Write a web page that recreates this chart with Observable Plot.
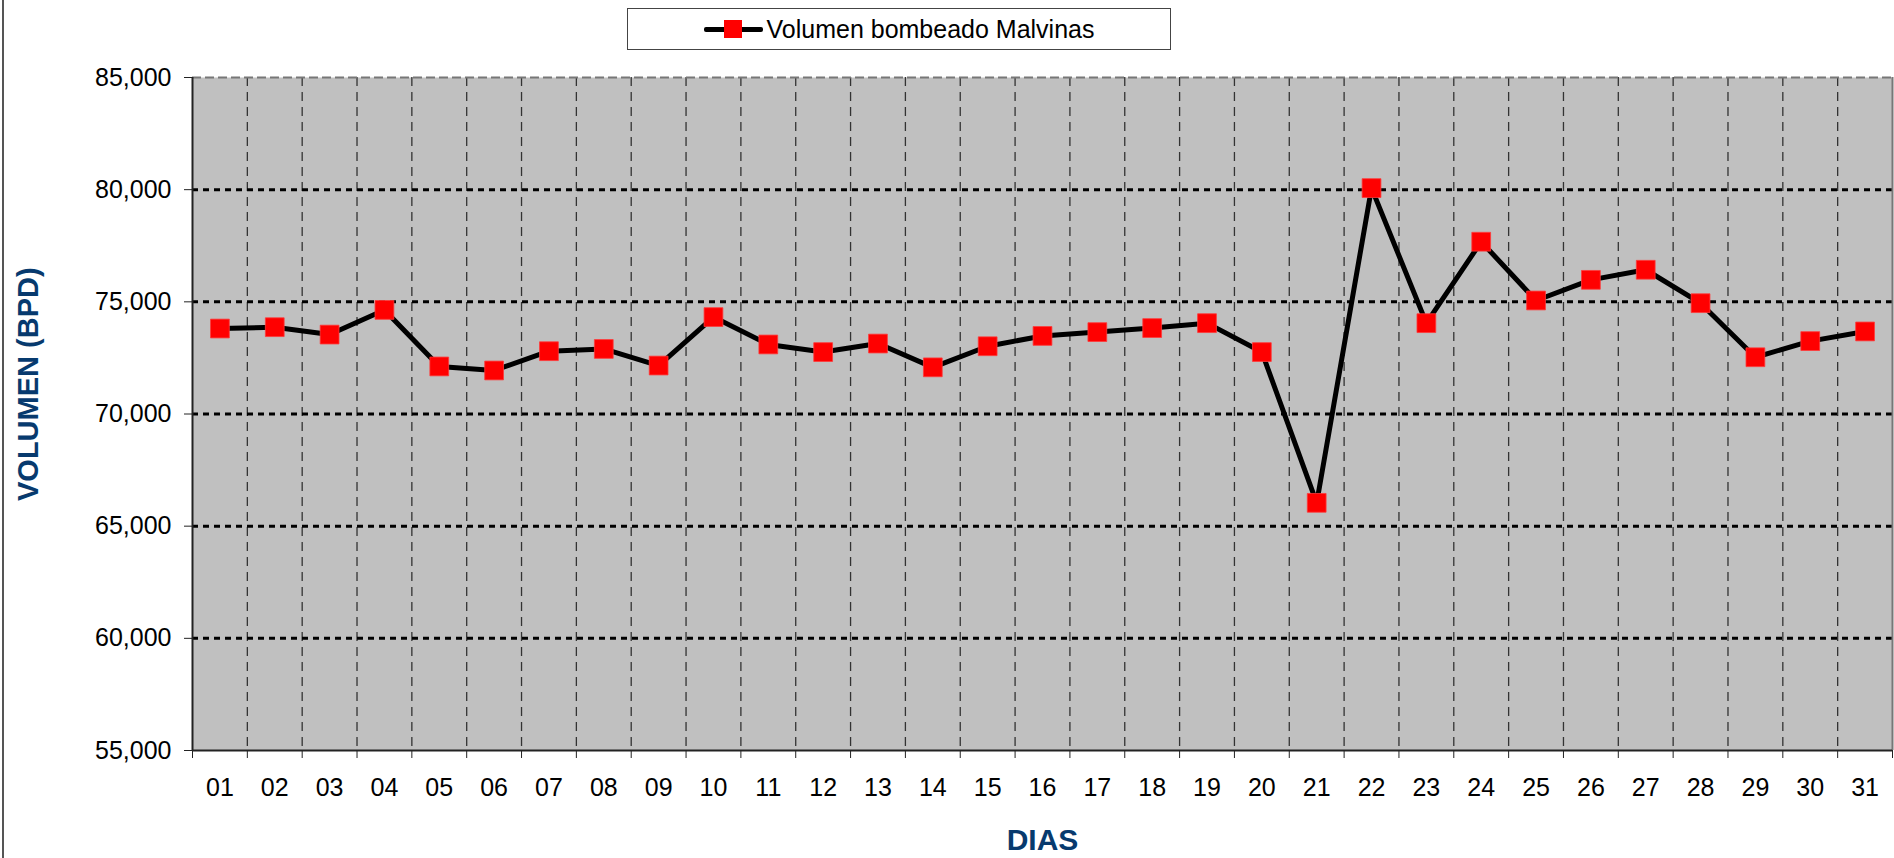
<!DOCTYPE html>
<html>
<head>
<meta charset="utf-8">
<script src="https://cdn.jsdelivr.net/npm/d3@7"></script>
<script src="https://cdn.jsdelivr.net/npm/@observablehq/plot@0.6"></script>
<style>
  html, body { margin: 0; padding: 0; background: #fff; }
  #wrap { position: relative; width: 1894px; height: 858px; overflow: hidden; font-family: "Liberation Sans", Arial, sans-serif; }
  #frameline { position: absolute; left: 2px; top: 0; width: 2px; height: 858px; background: #555; }
  #legend { position: absolute; left: 627px; top: 8px; width: 542px; height: 40px; border: 1.5px solid #444; background: #fff;
            display: flex; align-items: center; justify-content: center; font-size: 25px; color: #000; }
  #legend .sym { position: relative; width: 59px; height: 20px; margin-right: 4px; }
  #legend .sym .ln { position: absolute; left: 0; top: 8px; width: 59px; height: 5px; background: #000; border-radius: 2px; }
  #legend .sym .sq { position: absolute; left: 20px; top: 1px; width: 18px; height: 18px; background: #ff0000; }
</style>
</head>
<body>
<div id="wrap">
  <div id="chart"></div>
  <div id="frameline"></div>
  <div id="legend"><div class="sym"><div class="ln"></div><div class="sq"></div></div><span>Volumen bombeado Malvinas</span></div>
</div>
<script>
const days = ["01","02","03","04","05","06","07","08","09","10","11","12","13","14","15","16","17","18","19","20","21","22","23","24","25","26","27","28","29","30","31"];
const volumes = [73810, 73870, 73540, 74640, 72120, 71940, 72800, 72900, 72160, 74320, 73100, 72760, 73140, 72080, 73020, 73480, 73650, 73830, 74050, 72760, 66040, 80070, 74050, 77680, 75060, 75980, 76430, 74940, 72530, 73250, 73680];
const yTicks = [55000, 60000, 65000, 70000, 75000, 80000, 85000];
const gridY = [60000, 65000, 70000, 75000, 80000];
const yTitle = "VOLUMEN (BPD)";
const xTitle = "DIAS";

const data = days.map((d, i) => ({day: i + 1, label: d, v: volumes[i]}));
const boundaries = [0.5].concat(data.map(d => d.day + 0.5));

const chart = Plot.plot({
  width: 1894,
  height: 858,
  marginLeft: 192,
  marginRight: 2,
  marginTop: 77,
  marginBottom: 108,
  style: {fontFamily: "'Liberation Sans', Arial, sans-serif", background: "transparent", color: "#000", overflow: "visible"},
  x: {domain: [0.5, 31.5], axis: null},
  y: {domain: [55000, 85000], axis: null},
  marks: [
    Plot.frame({fill: "#c0c0c0"}),
    Plot.ruleX(boundaries.slice(1, -1), {stroke: "#333", strokeWidth: 1.3, strokeDasharray: "9,6"}),
    Plot.ruleY(gridY, {stroke: "#000", strokeWidth: 3, strokeDasharray: "6,5"}),
    Plot.ruleY([85000], {stroke: "#777", strokeWidth: 2, strokeDasharray: "9,4"}),
    Plot.ruleX([31.5], {stroke: "#777", strokeWidth: 2}),
    Plot.ruleY([55000], {stroke: "#222", strokeWidth: 2}),
    Plot.ruleX([0.5], {stroke: "#222", strokeWidth: 2}),
    Plot.axisY({ticks: yTicks, tickFormat: d3.format(","), tickSize: 8, tickPadding: 13, fontSize: 25, label: null, stroke: "#222"}),
    Plot.axisX({ticks: boundaries, tickFormat: () => "", tickSize: 8, label: null, stroke: "#222"}),
    Plot.axisX({ticks: data.map(d => d.day), tickFormat: d => days[d - 1], tickSize: 0, tickPadding: 28, fontSize: 25, label: null}),
    Plot.line(data, {x: "day", y: "v", stroke: "#000", strokeWidth: 5, strokeLinejoin: "miter"}),
    Plot.dot(data, {x: "day", y: "v", symbol: "square", r: 10.6, fill: "#ff0000", stroke: "#ff3a3a", strokeWidth: 0.8}),
    Plot.text([yTitle], {text: d => d, frameAnchor: "left", dx: -164, dy: 87, rotate: -90, fontSize: 29, fontWeight: "bold", fill: "#073a6e"}),
    Plot.text([xTitle], {text: d => d, frameAnchor: "bottom", dy: 78, lineAnchor: "top", fontSize: 30, fontWeight: "bold", fill: "#073a6e"})
  ]
});
document.getElementById("chart").appendChild(chart);
</script>
</body>
</html>
